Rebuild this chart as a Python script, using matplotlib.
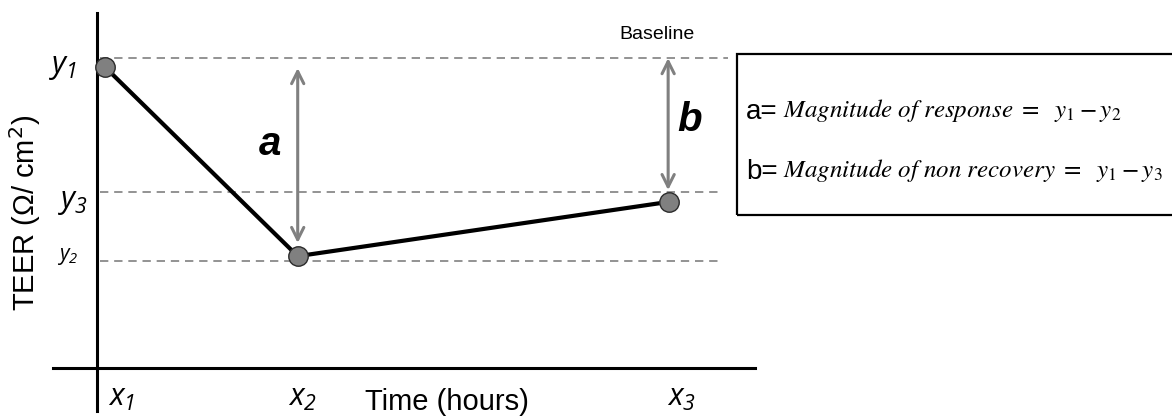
import numpy as np
import matplotlib.pyplot as plt
from matplotlib.patches import Rectangle

plt.rcParams['font.family'] = ['Liberation Sans', 'DejaVu Sans']
plt.rcParams['mathtext.fontset'] = 'custom'
plt.rcParams['mathtext.it'] = 'Open Sans:italic'
plt.rcParams['mathtext.rm'] = 'Open Sans:italic'

# schematic TEER response (arbitrary units)
timePts = np.array([0.12, 3.05, 8.69])
teerPts = np.array([8.48, 3.15, 4.68])
xLabels = ['$x_1$', '$x_2$', '$x_3$']
yLabels = ['$y_1$', '$y_2$', '$y_3$']

# reference levels: baseline (y1), y3, y2
refLevels = [8.73, 4.96, 3.01]
refEnds = [9.59, 9.51, 9.51]

# arrows: a = y1 - y2, b = y1 - y3
arrowX = [3.05, 8.68]
arrowTop = [8.45, 8.73]
arrowBottom = [3.52, 5.01]
arrowNames = ['a', 'b']

fig = plt.figure(figsize=(11.72, 4.17), dpi=100)
ax = fig.add_axes([53 / 1172, 6 / 417, 702 / 1172, 398 / 417])
ax.set_xlim(-0.669, 10)
ax.set_ylim(-1.211, 10)

for s in ['top', 'right']:
    ax.spines[s].set_visible(False)
ax.spines['left'].set_position(('data', 0))
ax.spines['bottom'].set_position(('data', 0))
ax.spines['left'].set_linewidth(2.2)
ax.spines['bottom'].set_linewidth(2.2)
ax.set_xticks([])
ax.set_yticks([])

for lvl, end in zip(refLevels, refEnds):
    ax.plot([0.05, end], [lvl, lvl], ls=(0, (5, 3.5)), color='#808080', lw=1.2, zorder=1)

ax.plot(timePts, teerPts, color='black', lw=3, zorder=2)
ax.plot(timePts, teerPts, 'o', ms=14, mfc='#808080', mec='#2b2b2b', mew=1, zorder=3, clip_on=False)

for xa, top, bot, name, dx, yt in zip(arrowX, arrowTop, arrowBottom, arrowNames, [-0.42, 0.33], [6.3, 6.98]):
    ax.annotate('', xy=(xa, top), xytext=(xa, bot),
                arrowprops=dict(arrowstyle='<->', color='#808080', lw=2.2, mutation_scale=22,
                                shrinkA=0, shrinkB=0))
    ax.text(xa + dx, yt, name, fontsize=29, fontweight='bold', fontstyle='italic',
            ha='center', va='center')

ax.text(8.51, 9.27, 'Baseline', fontsize=14, ha='center', va='baseline')

# axis point labels
for xp, lab, dx in zip(timePts, xLabels, [0.25, 0.07, 0.19]):
    ax.text(xp + dx, -0.85, lab, fontsize=22, ha='center', va='center', clip_on=False)
for yp, lab, xr, fs in zip(teerPts, yLabels, [-0.30, -0.29, -0.14], [22, 15, 22]):
    ax.text(xr, yp, lab, fontsize=fs, ha='right', va='center')

fig.text(447 / 1172, 1 - 402 / 417, 'Time (hours)', fontsize=21, ha='center', va='center')
fig.text(25 / 1172, 1 - 213 / 417, 'TEER (Ω/ cm$^{2}$)', fontsize=21, rotation=90,
         math_fontfamily='dejavusans', ha='center', va='center')

# definition box
fig.add_artist(Rectangle((737 / 1172, 1 - 215 / 417), 0.5, 161 / 417, transform=fig.transFigure,
                         fill=False, lw=1.6, edgecolor='black'))
fig.text(746 / 1172, 1 - 112 / 417, 'a=', fontsize=20, ha='left', va='center')
fig.text(746 / 1172, 1 - 172 / 417, 'b=', fontsize=20, ha='left', va='center')
fig.text(783 / 1172, 1 - 110 / 417, r'$Magnitude\ of\ response\ =\ \ y_1 - y_2$', fontsize=18,
         math_fontfamily='stix', ha='left', va='center')
fig.text(783 / 1172, 1 - 170 / 417, r'$Magnitude\ of\ non\ recovery\ =\ \ y_1 - y_3$', fontsize=18,
         math_fontfamily='stix', ha='left', va='center')

plt.savefig('out.png', dpi=100)
